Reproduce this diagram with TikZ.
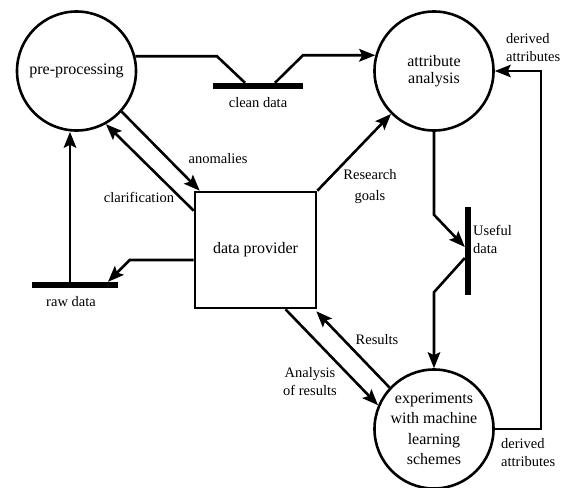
\documentclass[tikz,border=0pt]{standalone}
\usepackage{fontspec}
\setmainfont{Liberation Serif}
\usetikzlibrary{arrows.meta,calc}
\begin{document}
\begin{tikzpicture}[x=1pt,y=-1pt,
  proc/.style={circle,draw,line width=2.6pt,minimum size=119pt,inner sep=0pt,align=center,font=\fontsize{16}{17}\selectfont},
  box/.style={rectangle,draw,line width=2.6pt,minimum width=121pt,minimum height=116pt,inner sep=0pt,font=\fontsize{16}{17}\selectfont},
  store/.style={rectangle,fill=black,inner sep=0pt},
  flow/.style={line width=2.6pt,-{Stealth[length=16pt,width=12.5pt,inset=3pt]}},
  plain/.style={line width=2.6pt},
  lbl/.style={font=\fontsize{14.5}{18}\selectfont,inner sep=0pt}]
\useasboundingbox[fill=white] (0,0) rectangle (566,488);

\node[proc] (pre) at (76.5,71) {pre-processing};
\node[proc,font=\fontsize{16}{17}\selectfont] (attr) at (434,71) {attribute\\analysis};
\node[proc,font=\fontsize{16}{20.5}\selectfont] (exp) at (434,429) {experiments\\with machine\\learning\\schemes};
\node[box] (dp) at (255.5,250) {data provider};
\node[store,minimum width=90pt,minimum height=6pt] (clean) at (258,86) {};
\node[store,minimum width=86pt,minimum height=6pt] (raw) at (75,285) {};
\node[store,minimum width=6pt,minimum height=88pt] (useful) at (468,251) {};

% pre-processing -> clean data -> attribute analysis
\coordinate (k1) at ($(clean.north)+(-41,0)$);
\draw[plain] (pre.14.24) -- (k1 |- pre.14.24) -- ($(clean.north)+(-13,0)$);
\coordinate (k2) at ($(clean.north)+(45,0)$);
\draw[flow] ($(clean.north)+(17,0)$) -- (k2 |- attr.165.76) -- (attr.165.76);

% anomalies / clarification
\draw[flow] (pre.-42) -- ($(dp.north west)+(6,0)$);
\draw[flow] ($(dp.north west)+(0,20)$) -- (pre.-61);

% data provider -> raw data -> pre-processing
\draw[flow] ($(dp.west)+(0,10)$) -- ++(-64,0) -- ($(raw.north)+(33,0)$);
\coordinate (r1) at ($(raw.north)+(-5,0)$);
\draw[flow] (r1) -- (r1 |- pre.south);

% research goals
\draw[flow] (dp.north east) -- (attr.225);

% attribute analysis -> useful data -> experiments
\draw[flow] (attr.south) -- ++(0,83) -- ($(useful.west)+(0,-4)$);
\draw[flow] ($(useful.west)+(0,7)$) -- ($(exp.north)+(0,-76)$) -- (exp.north);

% derived attributes loop
\draw[flow] (exp.east) -- ++(46,0) |- (attr.east);

% results / analysis of results
\draw[flow] (exp.137) -- ($(dp.south east)+(-1,2)$);
\draw[flow] ($(dp.south)+(30,0)$) -- (exp.157);

% labels
\node[lbl] (lclean) at (258,103) {clean data};
\node[lbl] (lraw) at (71,302) {raw data};
\node[lbl] (lanom) at (218,159) {anomalies};
\node[lbl] (lclar) at (139,197) {clarification};
\node[lbl,align=center,font=\fontsize{14.5}{21}\selectfont] (lres) at (370,187) {Research\\goals};
\node[lbl,align=left,anchor=west] (luse) at (473,239) {Useful\\data};
\node[lbl,align=left,anchor=west] (lder1) at (506,47.5) {derived\\attributes};
\node[lbl,align=left,anchor=west] (lder2) at (501,453) {derived\\attributes};
\node[lbl] (lresults) at (377,340) {Results};
\node[lbl,align=center] (lana) at (310,382) {Analysis\\of results};
\end{tikzpicture}
\end{document}
